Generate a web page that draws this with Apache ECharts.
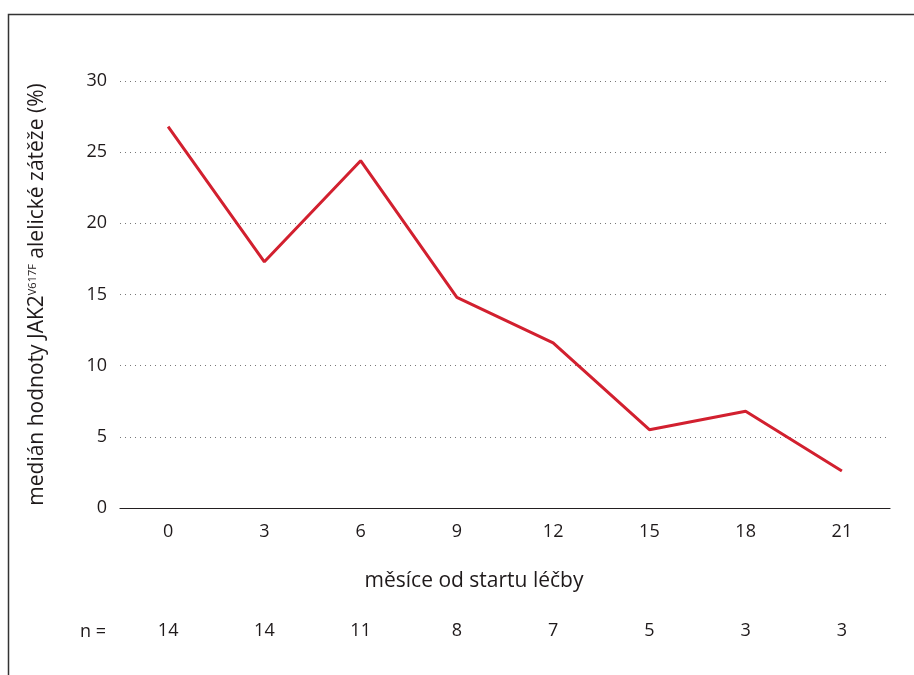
<!DOCTYPE html>
<html>
<head>
<meta charset="utf-8">
<script src="https://cdn.jsdelivr.net/npm/echarts@6/dist/echarts.min.js"></script>
<style>
  html, body { margin: 0; padding: 0; background: #fff; }
  #chart { width: 914px; height: 675px; }
</style>
</head>
<body>
<div id="chart"></div>
<script>
// months from treatment start
const months = ['0', '3', '6', '9', '12', '15', '18', '21'];
// median JAK2 V617F allele burden (%)
const median = [26.8, 17.3, 24.4, 14.8, 11.6, 5.5, 6.8, 2.6];
// patients per timepoint
const nCounts = ['14', '14', '11', '8', '7', '5', '3', '3'];

const font = 'Open Sans';
const textColor = '#1f1a1b';

const chart = echarts.init(document.getElementById('chart'));

chart.setOption({
    animation: false,
    textStyle: { fontFamily: font },
    grid: { left: 120, right: 24, top: 81, bottom: 167 },
    xAxis: [{
        type: 'category',
        data: months,
        boundaryGap: true,
        axisLine: { lineStyle: { color: '#231f20', width: 1.2 } },
        axisTick: { show: false },
        axisLabel: { color: textColor, fontSize: 18, margin: 15, fontFamily: font }
    }, {
        type: 'category',
        data: nCounts,
        position: 'bottom',
        offset: 114,
        boundaryGap: true,
        axisLine: { show: false },
        axisTick: { show: false },
        axisLabel: { color: textColor, fontSize: 18, margin: 0, fontFamily: font }
    }],
    yAxis: {
        type: 'value',
        min: 0,
        max: 30,
        interval: 5,
        axisLine: { show: false },
        axisTick: { show: false },
        axisLabel: { color: textColor, fontSize: 18, margin: 13, fontFamily: font },
        splitLine: { lineStyle: { color: '#777', type: [1, 4], width: 1 } },
        name: '{t|medián hodnoty JAK2}{s|V617F}{t| alelické zátěže (%)}',
        nameLocation: 'middle',
        nameRotate: 90,
        nameGap: 72,
        nameTextStyle: {
            rich: {
                t: { fontSize: 21, color: textColor, fontFamily: font },
                s: { fontSize: 11, color: textColor, fontFamily: font, verticalAlign: 'top', padding: [0, 0, 8, 0] }
            }
        }
    },
    graphic: [{
        type: 'rect',
        shape: { x: 8.5, y: 14.5, width: 1000, height: 1000 },
        style: { fill: 'none', stroke: '#333', lineWidth: 1.5 },
        silent: true
    }, {
        type: 'text',
        style: {
            x: 474, y: 581, align: 'center', verticalAlign: 'middle',
            text: 'měsíce od startu léčby', fill: textColor, font: '21px "' + font + '"'
        }
    }, {
        type: 'text',
        style: {
            x: 80, y: 632, align: 'left', verticalAlign: 'middle',
            text: 'n =', fill: textColor, font: '18px "' + font + '"'
        }
    }],
    series: [{
        type: 'line',
        data: median,
        xAxisIndex: 0,
        symbol: 'none',
        lineStyle: { color: '#d2202f', width: 3 }
    }]
});
</script>
</body>
</html>
